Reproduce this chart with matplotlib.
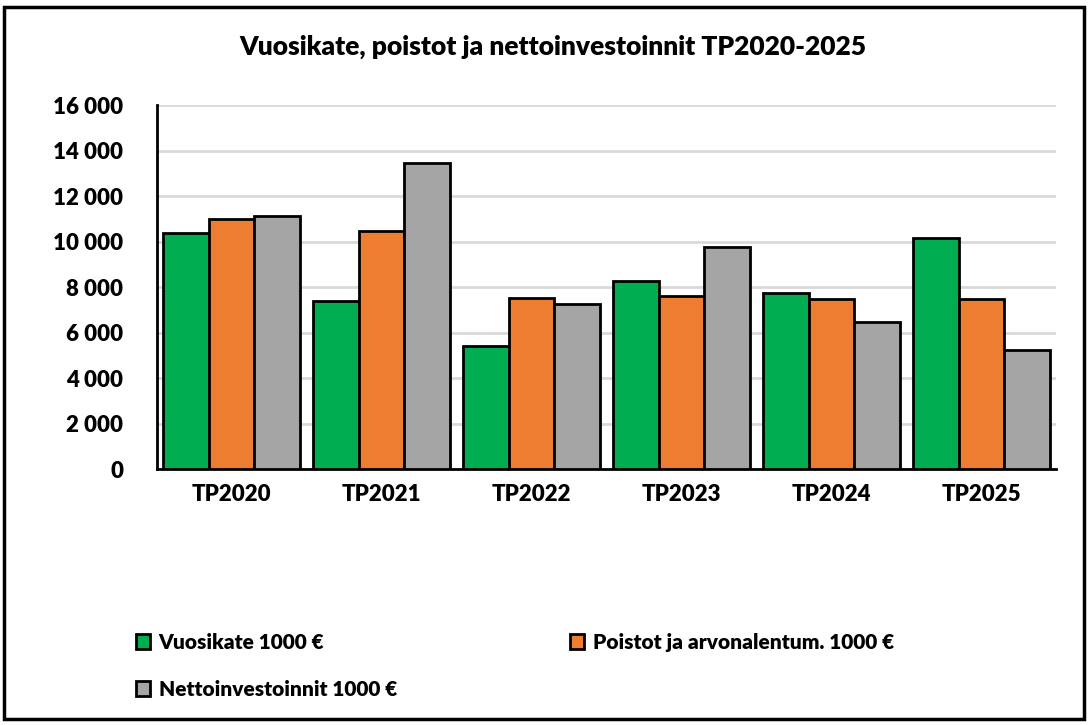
import matplotlib
matplotlib.use("Agg")
import matplotlib.pyplot as plt
import numpy as np
from matplotlib.patches import Rectangle, Patch
from matplotlib.ticker import FuncFormatter

categories = ["TP2020", "TP2021", "TP2022", "TP2023", "TP2024", "TP2025"]
vuosikate = [10370, 7400, 5420, 8290, 7760, 10180]
poistot = [11000, 10450, 7540, 7620, 7490, 7490]
netto = [11130, 13470, 7270, 9780, 6480, 5240]
series_names = ["Vuosikate 1000 €", "Poistot ja arvonalentum. 1000 €", "Nettoinvestoinnit 1000 €"]
colors = ["#00AD50", "#ED7D31", "#A5A5A5"]

plt.rcParams['font.family'] = ['Lato', 'DejaVu Sans']
W = 'heavy'

fig = plt.figure(figsize=(10.88, 7.25), dpi=100)
ax = fig.add_axes([0.144, 0.353, 0.827, 0.502])

x = np.arange(len(categories))
w = 0.303
for i, (vals, c) in enumerate(zip([vuosikate, poistot, netto], colors)):
    ax.bar(x + (i - 1) * w, vals, width=w, color=c, edgecolor="black", linewidth=2, zorder=3)

ax.set_xlim(-0.5, len(categories) - 0.5)
ax.set_ylim(0, 16000)
ax.set_yticks(np.arange(0, 16001, 2000))
ax.yaxis.set_major_formatter(FuncFormatter(lambda v, p: f"{int(v):,}".replace(",", " ")))
ax.set_xticks(x)
ax.set_xticklabels(categories)
ax.tick_params(axis='both', length=0, labelsize=16)
ax.tick_params(axis='x', pad=11)
ax.tick_params(axis='y', pad=24)
for lab in ax.get_xticklabels() + ax.get_yticklabels():
    lab.set_fontweight(W)
ax.grid(axis='y', color="#D9D9D9", linewidth=2, zorder=0)
ax.set_axisbelow(True)
for s in ["top", "right"]:
    ax.spines[s].set_visible(False)
ax.spines["left"].set_linewidth(2)
ax.spines["bottom"].set_linewidth(2)

fig.text(0.508, 0.935, "Vuosikate, poistot ja nettoinvestoinnit TP2020-2025",
         ha="center", va="center", fontsize=19, fontweight=W)

handles = [Patch(facecolor=c, edgecolor="black", linewidth=2) for c in colors]
order = [0, 2, 1]
leg = fig.legend([handles[i] for i in order], [series_names[i] for i in order],
                 ncol=2, loc="upper left",
                 frameon=False, prop={'size': 15, 'weight': W},
                 handlelength=0.7, handleheight=0.7, handletextpad=0.4,
                 columnspacing=8.3, labelspacing=1.35, borderaxespad=0)
leg.set_bbox_to_anchor((0.117, 0.139), transform=fig.transFigure)

fig.patches.append(Rectangle((0.004, 0.008), 0.992, 0.983, transform=fig.transFigure,
                             fill=False, edgecolor="black", linewidth=2.5))

fig.savefig("out.png", dpi=100)
